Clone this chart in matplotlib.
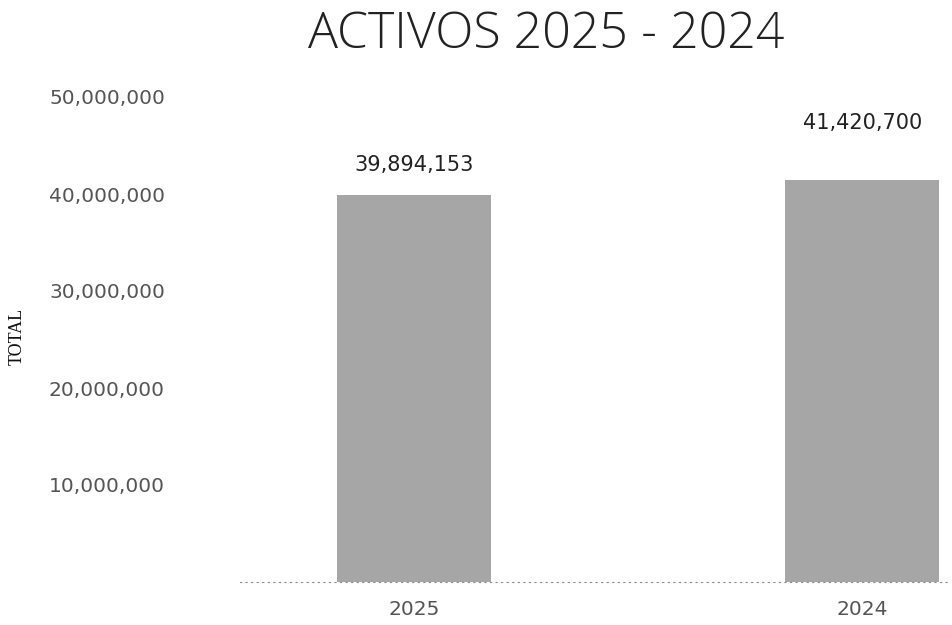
import matplotlib.pyplot as plt
from matplotlib.ticker import FuncFormatter

# data
years = ['2025', '2024']
totals = [39894153, 41420700]
yticks = [10000000, 20000000, 30000000, 40000000, 50000000]

BAR_COLOR = '#a6a6a6'
TEXT_GRAY = '#555555'

fig = plt.figure(figsize=(9.53, 6.25), dpi=100)
ax = fig.add_axes([240 / 953, 1 - 582 / 625, 710 / 953, (582 - 97) / 625])

x = list(range(len(years)))
ax.bar(x, totals, width=0.345, color=BAR_COLOR)

# value labels (the 2024 one floats higher in the original)
offsets = [3.1e6, 5.9e6]
for xi, val, off in zip(x, totals, offsets):
    ax.text(xi, val + off, f'{val:,}', ha='center', va='center',
            fontsize=15, color='#222222', family='DejaVu Sans')

ax.set_xlim(-0.388, 1.196)
ax.set_ylim(0, 50000000)
ax.set_xticks(x)
ax.set_xticklabels(years)
ax.set_yticks(yticks)
ax.yaxis.set_major_formatter(FuncFormatter(lambda v, p: f'{int(v):,}'))

ax.tick_params(axis='y', length=0, pad=54, labelsize=14.5, labelcolor=TEXT_GRAY)
ax.tick_params(axis='x', length=0, pad=13, labelsize=14.5, labelcolor=TEXT_GRAY)

for side in ['top', 'right', 'left']:
    ax.spines[side].set_visible(False)
ax.spines['bottom'].set_linestyle((0, (1, 4)))
ax.spines['bottom'].set_color('#888888')

fig.text(17 / 953, 1 - 336 / 625, 'TOTAL', rotation=90, ha='center', va='center',
         fontsize=13, family='Liberation Serif', color='#111111')

fig.text(546 / 953, 1 - 35 / 625, 'ACTIVOS 2025 - 2024', ha='center', va='center',
         fontsize=36, family='Open Sans', fontweight='light', color='#222222')

fig.savefig('out.png', dpi=100)
